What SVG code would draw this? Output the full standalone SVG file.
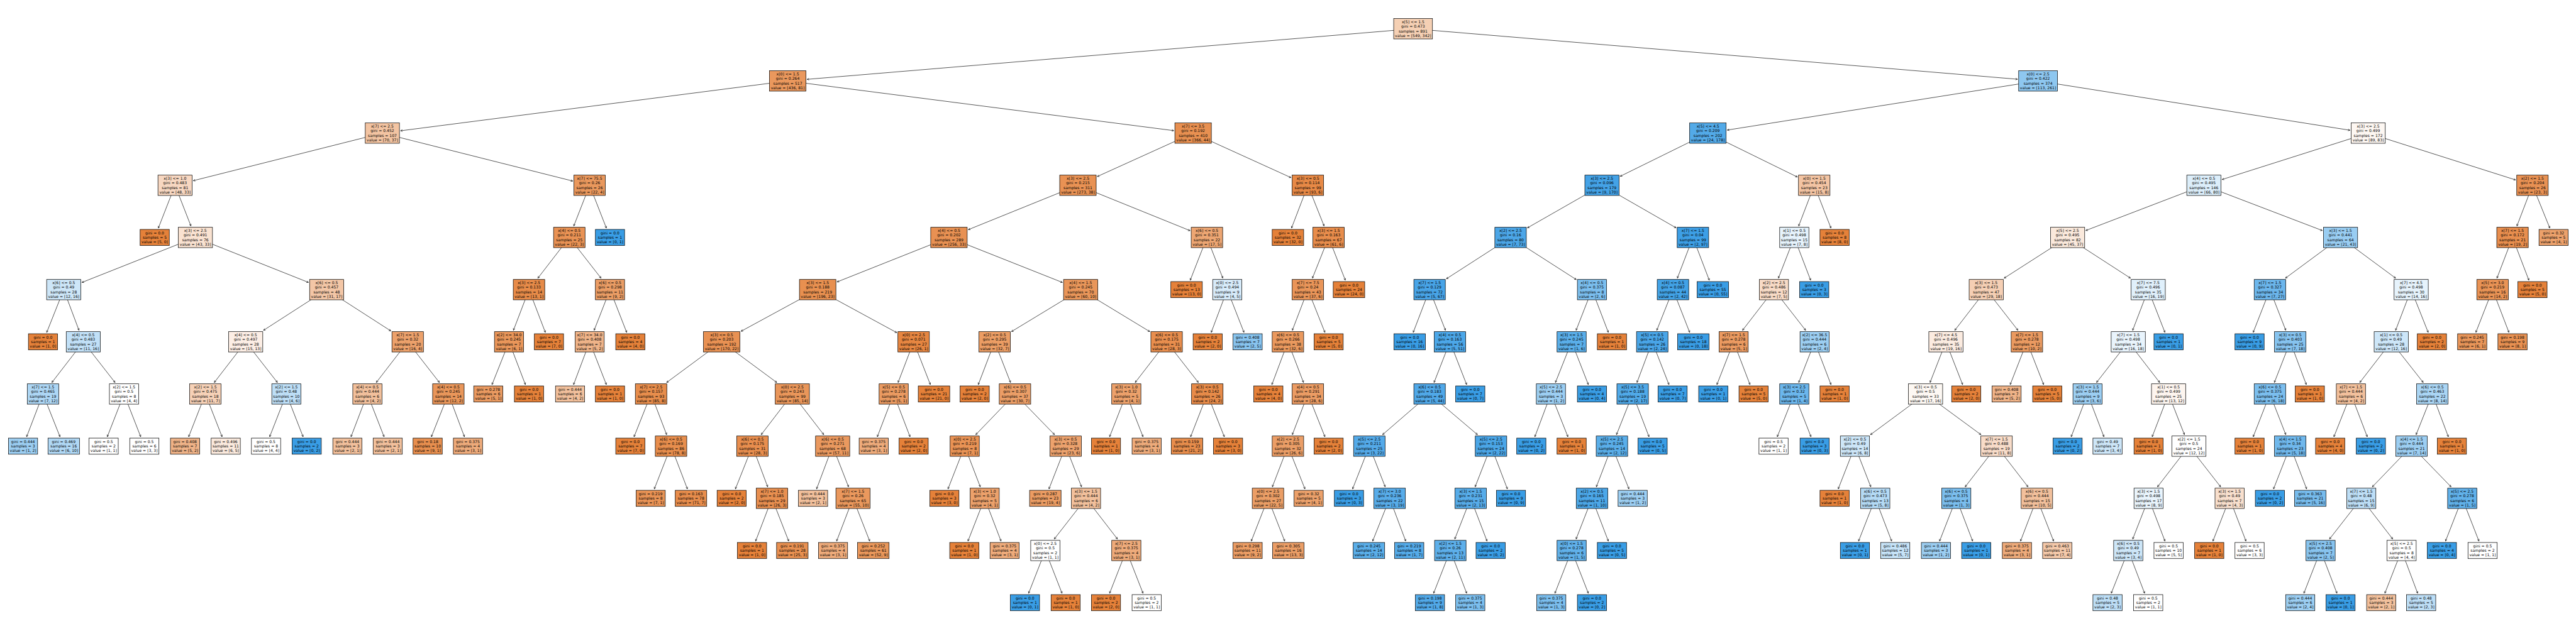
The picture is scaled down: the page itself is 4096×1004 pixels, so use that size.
<svg xmlns="http://www.w3.org/2000/svg" width="4096" height="1004" viewBox="0 0 4096 1004">
<style>
.u{fill:#fff}
.o,.b,.w{stroke:#000;stroke-width:1.2}
.o{fill:#e58139}
.b{fill:#399de5}
.w{fill:none}
text{font-family:"DejaVu Sans","Liberation Sans",sans-serif;font-size:10px;text-anchor:middle;fill:#000}
#edges path{fill:none;stroke:#000;stroke-width:1.1;marker-end:url(#ah)}
</style>
<defs>
<marker id="ah" viewBox="-6 -4 7 8" refX="0" refY="0" markerWidth="7" markerHeight="8" markerUnits="userSpaceOnUse" orient="auto"><path d="M-5,-2.4L0,0L-5,2.4" fill="none" stroke="#000" stroke-width="1"/></marker>
<rect id="I2" x="-38" y="-26.5" width="76" height="53"/>
<rect id="I3" x="-41" y="-26.5" width="82" height="53"/>
<rect id="I4" x="-44.5" y="-26.5" width="89" height="53"/>
<rect id="I5" x="-47.5" y="-26.5" width="95" height="53"/>
<rect id="I6" x="-50.5" y="-26.5" width="101" height="53"/>
<rect id="L2" x="-38" y="-21" width="76" height="42"/>
<rect id="L3" x="-41" y="-21" width="82" height="42"/>
</defs>
<rect width="4096" height="1004" fill="#fff"/>
<g transform="scale(0.6104)">
<g id="edges">
<path d="M3681 75L2102.5 206.8"/><path d="M3681 75L5255.5 206.5"/>
<path d="M2052 211L1043.5 340.9"/><path d="M2052 211L3057.5 340.5"/><path d="M5309 211L4499.5 339"/><path d="M5309 211L6121.5 339.5"/>
<path d="M996 347L503.5 471"/><path d="M996 347L1492 471.9"/><path d="M3108 347L2858.5 460.1"/><path d="M3108 347L3363 463"/><path d="M4449 347L4220.5 459.6"/><path d="M4449 347L4682 461.4"/><path d="M6169 347L5788.5 467.9"/><path d="M6169 347L6553 469"/>
<path d="M456 483L412.5 594.5"/><path d="M456 483L497.3 589"/><path d="M1536 483L1494.7 589"/><path d="M1536 483L1579.5 594.5"/><path d="M2808 483L2522.5 598.6"/><path d="M2808 483L3100 601.2"/><path d="M3407 483L3364.4 594.5"/><path d="M3407 483L3449.1 589"/><path d="M4173 483L3979 593.9"/><path d="M4173 483L4366 593.8"/><path d="M4726 483L4685.5 589"/><path d="M4726 483L4769.5 594.5"/><path d="M5741 483L5433.5 600.8"/><path d="M5741 483L6049.5 600.9"/><path d="M6597 483L6556.5 589"/><path d="M6597 483L6642.1 594.5"/>
<path d="M509 619L213.5 736.2"/><path d="M509 619L803.5 736.1"/><path d="M1483 619L1401.2 725"/><path d="M1483 619L1565.6 725"/><path d="M2472 619L2180.5 734.9"/><path d="M2472 619L2767.5 736.2"/><path d="M3144 619L3100.5 730.5"/><path d="M3144 619L3185.3 725"/><path d="M3461 619L3418.9 725"/><path d="M3461 619L3504.5 730.5"/><path d="M3935 619L3768 726.6"/><path d="M3935 619L4106 728.7"/><path d="M4410 619L4369.5 725"/><path d="M4410 619L4452.6 730.5"/><path d="M4674 619L4632.7 725"/><path d="M4674 619L4716.6 730.5"/><path d="M5386 619L5220.8 725"/><path d="M5386 619L5549.7 725"/><path d="M6097 619L5953.6 725"/><path d="M6097 619L6240.4 725"/><path d="M6545 619L6504.5 725"/><path d="M6545 619L6587.6 730.5"/>
<path d="M166 755L121.7 866.5"/><path d="M166 755L205.7 861"/><path d="M851 755L686.5 861"/><path d="M851 755L1018 862.6"/><path d="M1378 755L1337.5 861"/><path d="M1378 755L1420.6 866.5"/><path d="M1589 755L1547.7 861"/><path d="M1589 755L1632.5 866.5"/><path d="M2130 755L1930.5 863.5"/><path d="M2130 755L2336 867.1"/><path d="M2815 755L2635 864.3"/><path d="M2815 755L2995 864.3"/><path d="M3197 755L3155.2 866.5"/><path d="M3197 755L3240.5 866.5"/><path d="M3407 755L3366.5 861"/><path d="M3407 755L3451.3 866.5"/><path d="M3724 755L3681.4 866.5"/><path d="M3724 755L3765.3 861"/><path d="M4147 755L4105.7 861"/><path d="M4147 755L4189.6 866.5"/><path d="M4358 755L4315.9 861"/><path d="M4358 755L4401.5 866.5"/><path d="M4621 755L4539.2 861"/><path d="M4621 755L4703.6 861"/><path d="M5174 755L5092.2 861"/><path d="M5174 755L5256.6 861"/><path d="M5596 755L5555.5 861"/><path d="M5596 755L5639.5 866.5"/><path d="M5913 755L5869.5 866.5"/><path d="M5913 755L5954.3 861"/><path d="M6281 755L6240.5 861"/><path d="M6281 755L6325.3 866.5"/><path d="M6493 755L6449.5 866.5"/><path d="M6493 755L6535.6 866.5"/>
<path d="M217 891L135.2 997"/><path d="M217 891L299.6 997"/><path d="M640 891L558.2 997"/><path d="M640 891L722.6 997"/><path d="M1062 891L980.2 997"/><path d="M1062 891L1144.6 997"/><path d="M1326 891L1281.7 1002.5"/><path d="M1326 891L1368.6 1002.5"/><path d="M1536 891L1494.2 1002.5"/><path d="M1536 891L1579.5 1002.5"/><path d="M1880 891L1736.6 997"/><path d="M1880 891L2023.4 997"/><path d="M2380 891L2339.5 997"/><path d="M2380 891L2423.5 1002.5"/><path d="M2591 891L2548.4 1002.5"/><path d="M2591 891L2632.3 997"/><path d="M3039 891L2957.2 997"/><path d="M3039 891L3121.6 997"/><path d="M3355 891L3313.2 1002.5"/><path d="M3355 891L3395.5 997"/><path d="M3777 891L3735.7 997"/><path d="M3777 891L3820.5 1002.5"/><path d="M4094 891L4051.9 997"/><path d="M4094 891L4137.5 1002.5"/><path d="M4304 891L4264.3 997"/><path d="M4304 891L4347.5 1002.5"/><path d="M4516 891L4472.5 1002.5"/><path d="M4516 891L4558.6 1002.5"/><path d="M4727 891L4685.7 997"/><path d="M4727 891L4769.6 1002.5"/><path d="M5069 891L5027.7 997"/><path d="M5069 891L5112.5 1002.5"/><path d="M5280 891L5236.5 1002.5"/><path d="M5280 891L5323.5 1002.5"/><path d="M5544 891L5461.4 997"/><path d="M5544 891L5625.8 997"/><path d="M5966 891L5924.7 997"/><path d="M5966 891L6007.8 1002.5"/><path d="M6229 891L6147.2 997"/><path d="M6229 891L6312.4 997"/>
<path d="M112 1027L69.4 1138.5"/><path d="M112 1027L156.3 1138.5"/><path d="M323 1027L279.5 1138.5"/><path d="M323 1027L366.5 1138.5"/><path d="M535 1027L491.5 1138.5"/><path d="M535 1027L578.5 1138.5"/><path d="M746 1027L702.5 1138.5"/><path d="M746 1027L789.5 1138.5"/><path d="M957 1027L914.4 1138.5"/><path d="M957 1027L1000.5 1138.5"/><path d="M1168 1027L1123.7 1138.5"/><path d="M1168 1027L1209.8 1138.5"/><path d="M1696 1027L1651.7 1138.5"/><path d="M1696 1027L1736.5 1133"/><path d="M2064 1027L1982.9 1133"/><path d="M2064 1027L2145.8 1133"/><path d="M2328 1027L2285.4 1138.5"/><path d="M2328 1027L2370.6 1138.5"/><path d="M2644 1027L2541.9 1133"/><path d="M2644 1027L2746.9 1133"/><path d="M2934 1027L2890.5 1138.5"/><path d="M2934 1027L2977.5 1138.5"/><path d="M3145 1027L3101.5 1138.5"/><path d="M3145 1027L3189.3 1138.5"/><path d="M3407 1027L3366.5 1133"/><path d="M3407 1027L3451.3 1138.5"/><path d="M3724 1027L3601.6 1133"/><path d="M3724 1027L3848.7 1133"/><path d="M4040 1027L3998.2 1138.5"/><path d="M4040 1027L4084.3 1138.5"/><path d="M4253 1027L4210.9 1133"/><path d="M4253 1027L4295.6 1138.5"/><path d="M4674 1027L4629.7 1138.5"/><path d="M4674 1027L4717.5 1138.5"/><path d="M5016 1027L4872.6 1133"/><path d="M5016 1027L5160.2 1133"/><path d="M5438 1027L5395.4 1138.5"/><path d="M5438 1027L5480.6 1138.5"/><path d="M5649 1027L5606.4 1138.5"/><path d="M5649 1027L5690.3 1133"/><path d="M5913 1027L5869.5 1138.5"/><path d="M5913 1027L5954.3 1133"/><path d="M6124 1027L6079.7 1138.5"/><path d="M6124 1027L6166.6 1138.5"/><path d="M6336 1027L6293.9 1133"/><path d="M6336 1027L6377.8 1138.5"/>
<path d="M1748 1163L1704.5 1274.5"/><path d="M1748 1163L1790.6 1274.5"/><path d="M1960 1163L1915.7 1274.5"/><path d="M1960 1163L1999.7 1269"/><path d="M2169 1163L2127.2 1274.5"/><path d="M2169 1163L2210.3 1269"/><path d="M2513 1163L2469.5 1274.5"/><path d="M2513 1163L2553.5 1269"/><path d="M2776 1163L2732.5 1274.5"/><path d="M2776 1163L2817.3 1269"/><path d="M3355 1163L3314.5 1269"/><path d="M3355 1163L3399.3 1274.5"/><path d="M3567 1163L3523.5 1274.5"/><path d="M3567 1163L3608.3 1269"/><path d="M3884 1163L3842.7 1269"/><path d="M3884 1163L3926.6 1274.5"/><path d="M4199 1163L4158.5 1269"/><path d="M4199 1163L4243.3 1274.5"/><path d="M4832 1163L4788.5 1274.5"/><path d="M4832 1163L4873.3 1269"/><path d="M5201 1163L5119.2 1269"/><path d="M5201 1163L5282.8 1269"/><path d="M5702 1163L5620.2 1269"/><path d="M5702 1163L5784.6 1269"/><path d="M5966 1163L5922.5 1274.5"/><path d="M5966 1163L6008.6 1274.5"/><path d="M6282 1163L6179.9 1269"/><path d="M6282 1163L6384.9 1269"/>
<path d="M2011 1299L1968.4 1410.5"/><path d="M2011 1299L2054.5 1410.5"/><path d="M2222 1299L2179.4 1410.5"/><path d="M2222 1299L2265.5 1410.5"/><path d="M2565 1299L2521.5 1410.5"/><path d="M2565 1299L2607.6 1410.5"/><path d="M2829 1299L2746.4 1405"/><path d="M2829 1299L2910.8 1405"/><path d="M3303 1299L3259.5 1410.5"/><path d="M3303 1299L3346.5 1410.5"/><path d="M3620 1299L3575.7 1410.5"/><path d="M3620 1299L3661.8 1410.5"/><path d="M3831 1299L3789.7 1405"/><path d="M3831 1299L3873.6 1410.5"/><path d="M4147 1299L4105.7 1405"/><path d="M4147 1299L4189.6 1410.5"/><path d="M4885 1299L4841.5 1410.5"/><path d="M4885 1299L4927.6 1410.5"/><path d="M5096 1299L5052.5 1410.5"/><path d="M5096 1299L5138.6 1410.5"/><path d="M5306 1299L5263.4 1410.5"/><path d="M5306 1299L5349.5 1410.5"/><path d="M5597 1299L5555.7 1405"/><path d="M5597 1299L5639.6 1410.5"/><path d="M5808 1299L5764.5 1410.5"/><path d="M5808 1299L5850.6 1410.5"/><path d="M6151 1299L6068.4 1405"/><path d="M6151 1299L6232.8 1405"/><path d="M6414 1299L6370.5 1410.5"/><path d="M6414 1299L6457.5 1410.5"/>
<path d="M2723 1435L2679.5 1546.5"/><path d="M2723 1435L2766.5 1546.5"/><path d="M2934 1435L2890.5 1546.5"/><path d="M2934 1435L2977.5 1546.5"/><path d="M3778 1435L3734.5 1546.5"/><path d="M3778 1435L3820.6 1546.5"/><path d="M4094 1435L4050.5 1546.5"/><path d="M4094 1435L4137.5 1546.5"/><path d="M5544 1435L5499.7 1546.5"/><path d="M5544 1435L5586.6 1546.5"/><path d="M6045 1435L6001.5 1546.5"/><path d="M6045 1435L6087.6 1546.5"/><path d="M6256 1435L6212.5 1546.5"/><path d="M6256 1435L6297.8 1546.5"/>
</g>
<g id="nodes">
<g id="n0" transform="translate(3681 75)"><use href="#I6" class="u"/><use href="#I6" class="o" fill-opacity=".377"/><text y="-14.5">x[5] &lt;= 1.5</text><text y="-2.5">gini = 0.473</text><text y="9.5">samples = 891</text><text y="21.5">value = [549, 342]</text></g>
<g id="n1" transform="translate(2052 211)"><use href="#I5" class="u"/><use href="#I5" class="o" fill-opacity=".814"/><text y="-14.5">x[0] &lt;= 1.5</text><text y="-2.5">gini = 0.264</text><text y="9.5">samples = 517</text><text y="21.5">value = [436, 81]</text></g>
<g id="n2" transform="translate(5309 211)"><use href="#I6" class="u"/><use href="#I6" class="b" fill-opacity=".567"/><text y="-14.5">x[0] &lt;= 2.5</text><text y="-2.5">gini = 0.422</text><text y="9.5">samples = 374</text><text y="21.5">value = [113, 261]</text></g>
<g id="n3" transform="translate(996 347)"><use href="#I4" class="u"/><use href="#I4" class="o" fill-opacity=".471"/><text y="-14.5">x[7] &lt;= 2.5</text><text y="-2.5">gini = 0.452</text><text y="9.5">samples = 107</text><text y="21.5">value = [70, 37]</text></g>
<g id="n4" transform="translate(3108 347)"><use href="#I5" class="u"/><use href="#I5" class="o" fill-opacity=".88"/><text y="-14.5">x[7] &lt;= 3.5</text><text y="-2.5">gini = 0.192</text><text y="9.5">samples = 410</text><text y="21.5">value = [366, 44]</text></g>
<g id="n5" transform="translate(4449 347)"><use href="#I5" class="u"/><use href="#I5" class="b" fill-opacity=".865"/><text y="-14.5">x[5] &lt;= 4.5</text><text y="-2.5">gini = 0.209</text><text y="9.5">samples = 202</text><text y="21.5">value = [24, 178]</text></g>
<g id="n6" transform="translate(6169 347)"><use href="#I4" class="u"/><use href="#I4" class="o" fill-opacity=".067"/><text y="-14.5">x[3] &lt;= 2.5</text><text y="-2.5">gini = 0.499</text><text y="9.5">samples = 172</text><text y="21.5">value = [89, 83]</text></g>
<g id="n7" transform="translate(456 483)"><use href="#I4" class="u"/><use href="#I4" class="o" fill-opacity=".313"/><text y="-14.5">x[3] &lt;= 1.0</text><text y="-2.5">gini = 0.483</text><text y="9.5">samples = 81</text><text y="21.5">value = [48, 33]</text></g>
<g id="n8" transform="translate(1536 483)"><use href="#I3" class="u"/><use href="#I3" class="o" fill-opacity=".818"/><text y="-14.5">x[7] &lt;= 75.5</text><text y="-2.5">gini = 0.26</text><text y="9.5">samples = 26</text><text y="21.5">value = [22, 4]</text></g>
<g id="n9" transform="translate(2808 483)"><use href="#I5" class="u"/><use href="#I5" class="o" fill-opacity=".861"/><text y="-14.5">x[3] &lt;= 2.5</text><text y="-2.5">gini = 0.215</text><text y="9.5">samples = 311</text><text y="21.5">value = [273, 38]</text></g>
<g id="n10" transform="translate(3407 483)"><use href="#I3" class="u"/><use href="#I3" class="o" fill-opacity=".935"/><text y="-14.5">x[3] &lt;= 0.5</text><text y="-2.5">gini = 0.114</text><text y="9.5">samples = 99</text><text y="21.5">value = [93, 6]</text></g>
<g id="n11" transform="translate(4173 483)"><use href="#I4" class="u"/><use href="#I4" class="b" fill-opacity=".947"/><text y="-14.5">x[3] &lt;= 2.5</text><text y="-2.5">gini = 0.096</text><text y="9.5">samples = 179</text><text y="21.5">value = [9, 170]</text></g>
<g id="n12" transform="translate(4726 483)"><use href="#I3" class="u"/><use href="#I3" class="o" fill-opacity=".467"/><text y="-14.5">x[0] &lt;= 1.5</text><text y="-2.5">gini = 0.454</text><text y="9.5">samples = 23</text><text y="21.5">value = [15, 8]</text></g>
<g id="n13" transform="translate(5741 483)"><use href="#I4" class="u"/><use href="#I4" class="b" fill-opacity=".175"/><text y="-14.5">x[4] &lt;= 0.5</text><text y="-2.5">gini = 0.495</text><text y="9.5">samples = 146</text><text y="21.5">value = [66, 80]</text></g>
<g id="n14" transform="translate(6597 483)"><use href="#I3" class="u"/><use href="#I3" class="o" fill-opacity=".87"/><text y="-14.5">x[2] &lt;= 1.5</text><text y="-2.5">gini = 0.204</text><text y="9.5">samples = 26</text><text y="21.5">value = [23, 3]</text></g>
<g id="n15" transform="translate(403 619)"><use href="#L2" class="u"/><use href="#L2" class="o"/><text y="-8.5">gini = 0.0</text><text y="3.5">samples = 5</text><text y="15.5">value = [5, 0]</text></g>
<g id="n16" transform="translate(509 619)"><use href="#I4" class="u"/><use href="#I4" class="o" fill-opacity=".233"/><text y="-14.5">x[3] &lt;= 2.5</text><text y="-2.5">gini = 0.491</text><text y="9.5">samples = 76</text><text y="21.5">value = [43, 33]</text></g>
<g id="n17" transform="translate(1483 619)"><use href="#I3" class="u"/><use href="#I3" class="o" fill-opacity=".864"/><text y="-14.5">x[4] &lt;= 0.5</text><text y="-2.5">gini = 0.211</text><text y="9.5">samples = 25</text><text y="21.5">value = [22, 3]</text></g>
<g id="n18" transform="translate(1589 619)"><use href="#L2" class="u"/><use href="#L2" class="b"/><text y="-8.5">gini = 0.0</text><text y="3.5">samples = 1</text><text y="15.5">value = [0, 1]</text></g>
<g id="n19" transform="translate(2472 619)"><use href="#I5" class="u"/><use href="#I5" class="o" fill-opacity=".871"/><text y="-14.5">x[4] &lt;= 0.5</text><text y="-2.5">gini = 0.202</text><text y="9.5">samples = 289</text><text y="21.5">value = [256, 33]</text></g>
<g id="n20" transform="translate(3144 619)"><use href="#I3" class="u"/><use href="#I3" class="o" fill-opacity=".706"/><text y="-14.5">x[6] &lt;= 0.5</text><text y="-2.5">gini = 0.351</text><text y="9.5">samples = 22</text><text y="21.5">value = [17, 5]</text></g>
<g id="n21" transform="translate(3355 619)"><use href="#L3" class="u"/><use href="#L3" class="o"/><text y="-8.5">gini = 0.0</text><text y="3.5">samples = 32</text><text y="15.5">value = [32, 0]</text></g>
<g id="n22" transform="translate(3461 619)"><use href="#I3" class="u"/><use href="#I3" class="o" fill-opacity=".902"/><text y="-14.5">x[3] &lt;= 1.5</text><text y="-2.5">gini = 0.163</text><text y="9.5">samples = 67</text><text y="21.5">value = [61, 6]</text></g>
<g id="n23" transform="translate(3935 619)"><use href="#I3" class="u"/><use href="#I3" class="b" fill-opacity=".904"/><text y="-14.5">x[2] &lt;= 2.5</text><text y="-2.5">gini = 0.16</text><text y="9.5">samples = 80</text><text y="21.5">value = [7, 73]</text></g>
<g id="n24" transform="translate(4410 619)"><use href="#I3" class="u"/><use href="#I3" class="b" fill-opacity=".979"/><text y="-14.5">x[7] &lt;= 1.5</text><text y="-2.5">gini = 0.04</text><text y="9.5">samples = 99</text><text y="21.5">value = [2, 97]</text></g>
<g id="n25" transform="translate(4674 619)"><use href="#I2" class="u"/><use href="#I2" class="b" fill-opacity=".125"/><text y="-14.5">x[1] &lt;= 0.5</text><text y="-2.5">gini = 0.498</text><text y="9.5">samples = 15</text><text y="21.5">value = [7, 8]</text></g>
<g id="n26" transform="translate(4779 619)"><use href="#L2" class="u"/><use href="#L2" class="o"/><text y="-8.5">gini = 0.0</text><text y="3.5">samples = 8</text><text y="15.5">value = [8, 0]</text></g>
<g id="n27" transform="translate(5386 619)"><use href="#I4" class="u"/><use href="#I4" class="o" fill-opacity=".178"/><text y="-14.5">x[5] &lt;= 2.5</text><text y="-2.5">gini = 0.495</text><text y="9.5">samples = 82</text><text y="21.5">value = [45, 37]</text></g>
<g id="n28" transform="translate(6097 619)"><use href="#I4" class="u"/><use href="#I4" class="b" fill-opacity=".512"/><text y="-14.5">x[3] &lt;= 1.5</text><text y="-2.5">gini = 0.441</text><text y="9.5">samples = 64</text><text y="21.5">value = [21, 43]</text></g>
<g id="n29" transform="translate(6545 619)"><use href="#I3" class="u"/><use href="#I3" class="o" fill-opacity=".895"/><text y="-14.5">x[7] &lt;= 1.5</text><text y="-2.5">gini = 0.172</text><text y="9.5">samples = 21</text><text y="21.5">value = [19, 2]</text></g>
<g id="n30" transform="translate(6652 619)"><use href="#L2" class="u"/><use href="#L2" class="o" fill-opacity=".75"/><text y="-8.5">gini = 0.32</text><text y="3.5">samples = 5</text><text y="15.5">value = [4, 1]</text></g>
<g id="n31" transform="translate(166 755)"><use href="#I4" class="u"/><use href="#I4" class="b" fill-opacity=".25"/><text y="-14.5">x[6] &lt;= 0.5</text><text y="-2.5">gini = 0.49</text><text y="9.5">samples = 28</text><text y="21.5">value = [12, 16]</text></g>
<g id="n32" transform="translate(851 755)"><use href="#I4" class="u"/><use href="#I4" class="o" fill-opacity=".452"/><text y="-14.5">x[6] &lt;= 0.5</text><text y="-2.5">gini = 0.457</text><text y="9.5">samples = 48</text><text y="21.5">value = [31, 17]</text></g>
<g id="n33" transform="translate(1378 755)"><use href="#I3" class="u"/><use href="#I3" class="o" fill-opacity=".923"/><text y="-14.5">x[3] &lt;= 2.5</text><text y="-2.5">gini = 0.133</text><text y="9.5">samples = 14</text><text y="21.5">value = [13, 1]</text></g>
<g id="n34" transform="translate(1589 755)"><use href="#I2" class="u"/><use href="#I2" class="o" fill-opacity=".778"/><text y="-14.5">x[6] &lt;= 0.5</text><text y="-2.5">gini = 0.298</text><text y="9.5">samples = 11</text><text y="21.5">value = [9, 2]</text></g>
<g id="n35" transform="translate(2130 755)"><use href="#I5" class="u"/><use href="#I5" class="o" fill-opacity=".883"/><text y="-14.5">x[3] &lt;= 1.5</text><text y="-2.5">gini = 0.188</text><text y="9.5">samples = 219</text><text y="21.5">value = [196, 23]</text></g>
<g id="n36" transform="translate(2815 755)"><use href="#I4" class="u"/><use href="#I4" class="o" fill-opacity=".833"/><text y="-14.5">x[4] &lt;= 1.5</text><text y="-2.5">gini = 0.245</text><text y="9.5">samples = 70</text><text y="21.5">value = [60, 10]</text></g>
<g id="n37" transform="translate(3091 755)"><use href="#L3" class="u"/><use href="#L3" class="o"/><text y="-8.5">gini = 0.0</text><text y="3.5">samples = 13</text><text y="15.5">value = [13, 0]</text></g>
<g id="n38" transform="translate(3197 755)"><use href="#I2" class="u"/><use href="#I2" class="b" fill-opacity=".2"/><text y="-14.5">x[0] &lt;= 2.5</text><text y="-2.5">gini = 0.494</text><text y="9.5">samples = 9</text><text y="21.5">value = [4, 5]</text></g>
<g id="n39" transform="translate(3407 755)"><use href="#I3" class="u"/><use href="#I3" class="o" fill-opacity=".838"/><text y="-14.5">x[7] &lt;= 7.5</text><text y="-2.5">gini = 0.24</text><text y="9.5">samples = 43</text><text y="21.5">value = [37, 6]</text></g>
<g id="n40" transform="translate(3514 755)"><use href="#L3" class="u"/><use href="#L3" class="o"/><text y="-8.5">gini = 0.0</text><text y="3.5">samples = 24</text><text y="15.5">value = [24, 0]</text></g>
<g id="n41" transform="translate(3724 755)"><use href="#I3" class="u"/><use href="#I3" class="b" fill-opacity=".925"/><text y="-14.5">x[7] &lt;= 1.5</text><text y="-2.5">gini = 0.129</text><text y="9.5">samples = 72</text><text y="21.5">value = [5, 67]</text></g>
<g id="n42" transform="translate(4147 755)"><use href="#I2" class="u"/><use href="#I2" class="b" fill-opacity=".667"/><text y="-14.5">x[4] &lt;= 0.5</text><text y="-2.5">gini = 0.375</text><text y="9.5">samples = 8</text><text y="21.5">value = [2, 6]</text></g>
<g id="n43" transform="translate(4358 755)"><use href="#I3" class="u"/><use href="#I3" class="b" fill-opacity=".952"/><text y="-14.5">x[4] &lt;= 0.5</text><text y="-2.5">gini = 0.087</text><text y="9.5">samples = 44</text><text y="21.5">value = [2, 42]</text></g>
<g id="n44" transform="translate(4462 755)"><use href="#L3" class="u"/><use href="#L3" class="b"/><text y="-8.5">gini = 0.0</text><text y="3.5">samples = 55</text><text y="15.5">value = [0, 55]</text></g>
<g id="n45" transform="translate(4621 755)"><use href="#I2" class="u"/><use href="#I2" class="o" fill-opacity=".286"/><text y="-14.5">x[2] &lt;= 2.5</text><text y="-2.5">gini = 0.486</text><text y="9.5">samples = 12</text><text y="21.5">value = [7, 5]</text></g>
<g id="n46" transform="translate(4726 755)"><use href="#L2" class="u"/><use href="#L2" class="b"/><text y="-8.5">gini = 0.0</text><text y="3.5">samples = 3</text><text y="15.5">value = [0, 3]</text></g>
<g id="n47" transform="translate(5174 755)"><use href="#I4" class="u"/><use href="#I4" class="o" fill-opacity=".379"/><text y="-14.5">x[3] &lt;= 1.5</text><text y="-2.5">gini = 0.473</text><text y="9.5">samples = 47</text><text y="21.5">value = [29, 18]</text></g>
<g id="n48" transform="translate(5596 755)"><use href="#I4" class="u"/><use href="#I4" class="b" fill-opacity=".158"/><text y="-14.5">x[7] &lt;= 7.5</text><text y="-2.5">gini = 0.496</text><text y="9.5">samples = 35</text><text y="21.5">value = [16, 19]</text></g>
<g id="n49" transform="translate(5913 755)"><use href="#I3" class="u"/><use href="#I3" class="b" fill-opacity=".741"/><text y="-14.5">x[7] &lt;= 1.5</text><text y="-2.5">gini = 0.327</text><text y="9.5">samples = 34</text><text y="21.5">value = [7, 27]</text></g>
<g id="n50" transform="translate(6281 755)"><use href="#I4" class="u"/><use href="#I4" class="b" fill-opacity=".125"/><text y="-14.5">x[7] &lt;= 4.5</text><text y="-2.5">gini = 0.498</text><text y="9.5">samples = 30</text><text y="21.5">value = [14, 16]</text></g>
<g id="n51" transform="translate(6493 755)"><use href="#I3" class="u"/><use href="#I3" class="o" fill-opacity=".857"/><text y="-14.5">x[5] &lt;= 3.0</text><text y="-2.5">gini = 0.219</text><text y="9.5">samples = 16</text><text y="21.5">value = [14, 2]</text></g>
<g id="n52" transform="translate(6597 755)"><use href="#L2" class="u"/><use href="#L2" class="o"/><text y="-8.5">gini = 0.0</text><text y="3.5">samples = 5</text><text y="15.5">value = [5, 0]</text></g>
<g id="n53" transform="translate(112 891)"><use href="#L2" class="u"/><use href="#L2" class="o"/><text y="-8.5">gini = 0.0</text><text y="3.5">samples = 1</text><text y="15.5">value = [1, 0]</text></g>
<g id="n54" transform="translate(217 891)"><use href="#I4" class="u"/><use href="#I4" class="b" fill-opacity=".313"/><text y="-14.5">x[4] &lt;= 0.5</text><text y="-2.5">gini = 0.483</text><text y="9.5">samples = 27</text><text y="21.5">value = [11, 16]</text></g>
<g id="n55" transform="translate(640 891)"><use href="#I4" class="u"/><use href="#I4" class="o" fill-opacity=".133"/><text y="-14.5">x[4] &lt;= 0.5</text><text y="-2.5">gini = 0.497</text><text y="9.5">samples = 28</text><text y="21.5">value = [15, 13]</text></g>
<g id="n56" transform="translate(1062 891)"><use href="#I3" class="u"/><use href="#I3" class="o" fill-opacity=".75"/><text y="-14.5">x[7] &lt;= 1.5</text><text y="-2.5">gini = 0.32</text><text y="9.5">samples = 20</text><text y="21.5">value = [16, 4]</text></g>
<g id="n57" transform="translate(1326 891)"><use href="#I2" class="u"/><use href="#I2" class="o" fill-opacity=".833"/><text y="-14.5">x[2] &lt;= 34.0</text><text y="-2.5">gini = 0.245</text><text y="9.5">samples = 7</text><text y="21.5">value = [6, 1]</text></g>
<g id="n58" transform="translate(1430 891)"><use href="#L2" class="u"/><use href="#L2" class="o"/><text y="-8.5">gini = 0.0</text><text y="3.5">samples = 7</text><text y="15.5">value = [7, 0]</text></g>
<g id="n59" transform="translate(1536 891)"><use href="#I2" class="u"/><use href="#I2" class="o" fill-opacity=".6"/><text y="-14.5">x[7] &lt;= 34.0</text><text y="-2.5">gini = 0.408</text><text y="9.5">samples = 7</text><text y="21.5">value = [5, 2]</text></g>
<g id="n60" transform="translate(1642 891)"><use href="#L2" class="u"/><use href="#L2" class="o"/><text y="-8.5">gini = 0.0</text><text y="3.5">samples = 4</text><text y="15.5">value = [4, 0]</text></g>
<g id="n61" transform="translate(1880 891)"><use href="#I5" class="u"/><use href="#I5" class="o" fill-opacity=".871"/><text y="-14.5">x[3] &lt;= 0.5</text><text y="-2.5">gini = 0.203</text><text y="9.5">samples = 192</text><text y="21.5">value = [170, 22]</text></g>
<g id="n62" transform="translate(2380 891)"><use href="#I3" class="u"/><use href="#I3" class="o" fill-opacity=".962"/><text y="-14.5">x[0] &lt;= 2.5</text><text y="-2.5">gini = 0.071</text><text y="9.5">samples = 27</text><text y="21.5">value = [26, 1]</text></g>
<g id="n63" transform="translate(2591 891)"><use href="#I3" class="u"/><use href="#I3" class="o" fill-opacity=".781"/><text y="-14.5">x[2] &lt;= 0.5</text><text y="-2.5">gini = 0.295</text><text y="9.5">samples = 39</text><text y="21.5">value = [32, 7]</text></g>
<g id="n64" transform="translate(3039 891)"><use href="#I3" class="u"/><use href="#I3" class="o" fill-opacity=".893"/><text y="-14.5">x[6] &lt;= 0.5</text><text y="-2.5">gini = 0.175</text><text y="9.5">samples = 31</text><text y="21.5">value = [28, 3]</text></g>
<g id="n65" transform="translate(3146 891)"><use href="#L2" class="u"/><use href="#L2" class="o"/><text y="-8.5">gini = 0.0</text><text y="3.5">samples = 2</text><text y="15.5">value = [2, 0]</text></g>
<g id="n66" transform="translate(3250 891)"><use href="#L2" class="u"/><use href="#L2" class="b" fill-opacity=".6"/><text y="-8.5">gini = 0.408</text><text y="3.5">samples = 7</text><text y="15.5">value = [2, 5]</text></g>
<g id="n67" transform="translate(3355 891)"><use href="#I3" class="u"/><use href="#I3" class="o" fill-opacity=".813"/><text y="-14.5">x[6] &lt;= 0.5</text><text y="-2.5">gini = 0.266</text><text y="9.5">samples = 38</text><text y="21.5">value = [32, 6]</text></g>
<g id="n68" transform="translate(3461 891)"><use href="#L2" class="u"/><use href="#L2" class="o"/><text y="-8.5">gini = 0.0</text><text y="3.5">samples = 5</text><text y="15.5">value = [5, 0]</text></g>
<g id="n69" transform="translate(3672 891)"><use href="#L3" class="u"/><use href="#L3" class="b"/><text y="-8.5">gini = 0.0</text><text y="3.5">samples = 16</text><text y="15.5">value = [0, 16]</text></g>
<g id="n70" transform="translate(3777 891)"><use href="#I3" class="u"/><use href="#I3" class="b" fill-opacity=".902"/><text y="-14.5">x[4] &lt;= 0.5</text><text y="-2.5">gini = 0.163</text><text y="9.5">samples = 56</text><text y="21.5">value = [5, 51]</text></g>
<g id="n71" transform="translate(4094 891)"><use href="#I2" class="u"/><use href="#I2" class="b" fill-opacity=".833"/><text y="-14.5">x[3] &lt;= 1.5</text><text y="-2.5">gini = 0.245</text><text y="9.5">samples = 7</text><text y="21.5">value = [1, 6]</text></g>
<g id="n72" transform="translate(4199 891)"><use href="#L2" class="u"/><use href="#L2" class="o"/><text y="-8.5">gini = 0.0</text><text y="3.5">samples = 1</text><text y="15.5">value = [1, 0]</text></g>
<g id="n73" transform="translate(4304 891)"><use href="#I3" class="u"/><use href="#I3" class="b" fill-opacity=".917"/><text y="-14.5">x[5] &lt;= 0.5</text><text y="-2.5">gini = 0.142</text><text y="9.5">samples = 26</text><text y="21.5">value = [2, 24]</text></g>
<g id="n74" transform="translate(4411 891)"><use href="#L3" class="u"/><use href="#L3" class="b"/><text y="-8.5">gini = 0.0</text><text y="3.5">samples = 18</text><text y="15.5">value = [0, 18]</text></g>
<g id="n75" transform="translate(4516 891)"><use href="#I2" class="u"/><use href="#I2" class="o" fill-opacity=".8"/><text y="-14.5">x[7] &lt;= 1.5</text><text y="-2.5">gini = 0.278</text><text y="9.5">samples = 6</text><text y="21.5">value = [5, 1]</text></g>
<g id="n76" transform="translate(4727 891)"><use href="#I2" class="u"/><use href="#I2" class="b" fill-opacity=".5"/><text y="-14.5">x[2] &lt;= 36.5</text><text y="-2.5">gini = 0.444</text><text y="9.5">samples = 6</text><text y="21.5">value = [2, 4]</text></g>
<g id="n77" transform="translate(5069 891)"><use href="#I4" class="u"/><use href="#I4" class="o" fill-opacity=".158"/><text y="-14.5">x[7] &lt;= 4.5</text><text y="-2.5">gini = 0.496</text><text y="9.5">samples = 35</text><text y="21.5">value = [19, 16]</text></g>
<g id="n78" transform="translate(5280 891)"><use href="#I3" class="u"/><use href="#I3" class="o" fill-opacity=".8"/><text y="-14.5">x[7] &lt;= 1.5</text><text y="-2.5">gini = 0.278</text><text y="9.5">samples = 12</text><text y="21.5">value = [10, 2]</text></g>
<g id="n79" transform="translate(5544 891)"><use href="#I4" class="u"/><use href="#I4" class="b" fill-opacity=".111"/><text y="-14.5">x[7] &lt;= 1.5</text><text y="-2.5">gini = 0.498</text><text y="9.5">samples = 34</text><text y="21.5">value = [16, 18]</text></g>
<g id="n80" transform="translate(5649 891)"><use href="#L2" class="u"/><use href="#L2" class="b"/><text y="-8.5">gini = 0.0</text><text y="3.5">samples = 1</text><text y="15.5">value = [0, 1]</text></g>
<g id="n81" transform="translate(5860 891)"><use href="#L2" class="u"/><use href="#L2" class="b"/><text y="-8.5">gini = 0.0</text><text y="3.5">samples = 9</text><text y="15.5">value = [0, 9]</text></g>
<g id="n82" transform="translate(5966 891)"><use href="#I3" class="u"/><use href="#I3" class="b" fill-opacity=".611"/><text y="-14.5">x[3] &lt;= 0.5</text><text y="-2.5">gini = 0.403</text><text y="9.5">samples = 25</text><text y="21.5">value = [7, 18]</text></g>
<g id="n83" transform="translate(6229 891)"><use href="#I4" class="u"/><use href="#I4" class="b" fill-opacity=".25"/><text y="-14.5">x[1] &lt;= 0.5</text><text y="-2.5">gini = 0.49</text><text y="9.5">samples = 28</text><text y="21.5">value = [12, 16]</text></g>
<g id="n84" transform="translate(6335 891)"><use href="#L2" class="u"/><use href="#L2" class="o"/><text y="-8.5">gini = 0.0</text><text y="3.5">samples = 2</text><text y="15.5">value = [2, 0]</text></g>
<g id="n85" transform="translate(6440 891)"><use href="#L2" class="u"/><use href="#L2" class="o" fill-opacity=".833"/><text y="-8.5">gini = 0.245</text><text y="3.5">samples = 7</text><text y="15.5">value = [6, 1]</text></g>
<g id="n86" transform="translate(6545 891)"><use href="#L2" class="u"/><use href="#L2" class="o" fill-opacity=".875"/><text y="-8.5">gini = 0.198</text><text y="3.5">samples = 9</text><text y="15.5">value = [8, 1]</text></g>
<g id="n87" transform="translate(112 1027)"><use href="#I3" class="u"/><use href="#I3" class="b" fill-opacity=".417"/><text y="-14.5">x[7] &lt;= 1.5</text><text y="-2.5">gini = 0.465</text><text y="9.5">samples = 19</text><text y="21.5">value = [7, 12]</text></g>
<g id="n88" transform="translate(323 1027)"><use href="#I2" class="u"/><use href="#I2" class="w"/><text y="-14.5">x[2] &lt;= 1.5</text><text y="-2.5">gini = 0.5</text><text y="9.5">samples = 8</text><text y="21.5">value = [4, 4]</text></g>
<g id="n89" transform="translate(535 1027)"><use href="#I3" class="u"/><use href="#I3" class="o" fill-opacity=".364"/><text y="-14.5">x[2] &lt;= 1.5</text><text y="-2.5">gini = 0.475</text><text y="9.5">samples = 18</text><text y="21.5">value = [11, 7]</text></g>
<g id="n90" transform="translate(746 1027)"><use href="#I2" class="u"/><use href="#I2" class="b" fill-opacity=".333"/><text y="-14.5">x[2] &lt;= 1.5</text><text y="-2.5">gini = 0.48</text><text y="9.5">samples = 10</text><text y="21.5">value = [4, 6]</text></g>
<g id="n91" transform="translate(957 1027)"><use href="#I2" class="u"/><use href="#I2" class="o" fill-opacity=".5"/><text y="-14.5">x[4] &lt;= 0.5</text><text y="-2.5">gini = 0.444</text><text y="9.5">samples = 6</text><text y="21.5">value = [4, 2]</text></g>
<g id="n92" transform="translate(1168 1027)"><use href="#I3" class="u"/><use href="#I3" class="o" fill-opacity=".833"/><text y="-14.5">x[4] &lt;= 0.5</text><text y="-2.5">gini = 0.245</text><text y="9.5">samples = 14</text><text y="21.5">value = [12, 2]</text></g>
<g id="n93" transform="translate(1272 1027)"><use href="#L2" class="u"/><use href="#L2" class="o" fill-opacity=".8"/><text y="-8.5">gini = 0.278</text><text y="3.5">samples = 6</text><text y="15.5">value = [5, 1]</text></g>
<g id="n94" transform="translate(1378 1027)"><use href="#L2" class="u"/><use href="#L2" class="o"/><text y="-8.5">gini = 0.0</text><text y="3.5">samples = 1</text><text y="15.5">value = [1, 0]</text></g>
<g id="n95" transform="translate(1485 1027)"><use href="#L2" class="u"/><use href="#L2" class="o" fill-opacity=".5"/><text y="-8.5">gini = 0.444</text><text y="3.5">samples = 6</text><text y="15.5">value = [4, 2]</text></g>
<g id="n96" transform="translate(1589 1027)"><use href="#L2" class="u"/><use href="#L2" class="o"/><text y="-8.5">gini = 0.0</text><text y="3.5">samples = 1</text><text y="15.5">value = [1, 0]</text></g>
<g id="n97" transform="translate(1696 1027)"><use href="#I3" class="u"/><use href="#I3" class="o" fill-opacity=".906"/><text y="-14.5">x[7] &lt;= 2.5</text><text y="-2.5">gini = 0.157</text><text y="9.5">samples = 93</text><text y="21.5">value = [85, 8]</text></g>
<g id="n98" transform="translate(2064 1027)"><use href="#I4" class="u"/><use href="#I4" class="o" fill-opacity=".835"/><text y="-14.5">x[0] &lt;= 2.5</text><text y="-2.5">gini = 0.243</text><text y="9.5">samples = 99</text><text y="21.5">value = [85, 14]</text></g>
<g id="n99" transform="translate(2328 1027)"><use href="#I2" class="u"/><use href="#I2" class="o" fill-opacity=".8"/><text y="-14.5">x[5] &lt;= 0.5</text><text y="-2.5">gini = 0.278</text><text y="9.5">samples = 6</text><text y="21.5">value = [5, 1]</text></g>
<g id="n100" transform="translate(2433 1027)"><use href="#L3" class="u"/><use href="#L3" class="o"/><text y="-8.5">gini = 0.0</text><text y="3.5">samples = 21</text><text y="15.5">value = [21, 0]</text></g>
<g id="n101" transform="translate(2539 1027)"><use href="#L2" class="u"/><use href="#L2" class="o"/><text y="-8.5">gini = 0.0</text><text y="3.5">samples = 2</text><text y="15.5">value = [2, 0]</text></g>
<g id="n102" transform="translate(2644 1027)"><use href="#I3" class="u"/><use href="#I3" class="o" fill-opacity=".767"/><text y="-14.5">x[6] &lt;= 0.5</text><text y="-2.5">gini = 0.307</text><text y="9.5">samples = 37</text><text y="21.5">value = [30, 7]</text></g>
<g id="n103" transform="translate(2934 1027)"><use href="#I2" class="u"/><use href="#I2" class="o" fill-opacity=".75"/><text y="-14.5">x[3] &lt;= 1.0</text><text y="-2.5">gini = 0.32</text><text y="9.5">samples = 5</text><text y="21.5">value = [4, 1]</text></g>
<g id="n104" transform="translate(3145 1027)"><use href="#I3" class="u"/><use href="#I3" class="o" fill-opacity=".917"/><text y="-14.5">x[3] &lt;= 0.5</text><text y="-2.5">gini = 0.142</text><text y="9.5">samples = 26</text><text y="21.5">value = [24, 2]</text></g>
<g id="n105" transform="translate(3304 1027)"><use href="#L2" class="u"/><use href="#L2" class="o"/><text y="-8.5">gini = 0.0</text><text y="3.5">samples = 4</text><text y="15.5">value = [4, 0]</text></g>
<g id="n106" transform="translate(3407 1027)"><use href="#I3" class="u"/><use href="#I3" class="o" fill-opacity=".786"/><text y="-14.5">x[4] &lt;= 0.5</text><text y="-2.5">gini = 0.291</text><text y="9.5">samples = 34</text><text y="21.5">value = [28, 6]</text></g>
<g id="n107" transform="translate(3724 1027)"><use href="#I3" class="u"/><use href="#I3" class="b" fill-opacity=".886"/><text y="-14.5">x[6] &lt;= 0.5</text><text y="-2.5">gini = 0.183</text><text y="9.5">samples = 49</text><text y="21.5">value = [5, 44]</text></g>
<g id="n108" transform="translate(3830 1027)"><use href="#L2" class="u"/><use href="#L2" class="b"/><text y="-8.5">gini = 0.0</text><text y="3.5">samples = 7</text><text y="15.5">value = [0, 7]</text></g>
<g id="n109" transform="translate(4040 1027)"><use href="#I2" class="u"/><use href="#I2" class="b" fill-opacity=".5"/><text y="-14.5">x[5] &lt;= 2.5</text><text y="-2.5">gini = 0.444</text><text y="9.5">samples = 3</text><text y="21.5">value = [1, 2]</text></g>
<g id="n110" transform="translate(4147 1027)"><use href="#L2" class="u"/><use href="#L2" class="b"/><text y="-8.5">gini = 0.0</text><text y="3.5">samples = 4</text><text y="15.5">value = [0, 4]</text></g>
<g id="n111" transform="translate(4253 1027)"><use href="#I3" class="u"/><use href="#I3" class="b" fill-opacity=".882"/><text y="-14.5">x[5] &lt;= 3.5</text><text y="-2.5">gini = 0.188</text><text y="9.5">samples = 19</text><text y="21.5">value = [2, 17]</text></g>
<g id="n112" transform="translate(4357 1027)"><use href="#L2" class="u"/><use href="#L2" class="b"/><text y="-8.5">gini = 0.0</text><text y="3.5">samples = 7</text><text y="15.5">value = [0, 7]</text></g>
<g id="n113" transform="translate(4463 1027)"><use href="#L2" class="u"/><use href="#L2" class="b"/><text y="-8.5">gini = 0.0</text><text y="3.5">samples = 1</text><text y="15.5">value = [0, 1]</text></g>
<g id="n114" transform="translate(4568 1027)"><use href="#L2" class="u"/><use href="#L2" class="o"/><text y="-8.5">gini = 0.0</text><text y="3.5">samples = 5</text><text y="15.5">value = [5, 0]</text></g>
<g id="n115" transform="translate(4674 1027)"><use href="#I2" class="u"/><use href="#I2" class="b" fill-opacity=".75"/><text y="-14.5">x[3] &lt;= 2.5</text><text y="-2.5">gini = 0.32</text><text y="9.5">samples = 5</text><text y="21.5">value = [1, 4]</text></g>
<g id="n116" transform="translate(4779 1027)"><use href="#L2" class="u"/><use href="#L2" class="o"/><text y="-8.5">gini = 0.0</text><text y="3.5">samples = 1</text><text y="15.5">value = [1, 0]</text></g>
<g id="n117" transform="translate(5016 1027)"><use href="#I4" class="u"/><use href="#I4" class="o" fill-opacity=".059"/><text y="-14.5">x[3] &lt;= 0.5</text><text y="-2.5">gini = 0.5</text><text y="9.5">samples = 33</text><text y="21.5">value = [17, 16]</text></g>
<g id="n118" transform="translate(5122 1027)"><use href="#L2" class="u"/><use href="#L2" class="o"/><text y="-8.5">gini = 0.0</text><text y="3.5">samples = 2</text><text y="15.5">value = [2, 0]</text></g>
<g id="n119" transform="translate(5227 1027)"><use href="#L2" class="u"/><use href="#L2" class="o" fill-opacity=".6"/><text y="-8.5">gini = 0.408</text><text y="3.5">samples = 7</text><text y="15.5">value = [5, 2]</text></g>
<g id="n120" transform="translate(5333 1027)"><use href="#L2" class="u"/><use href="#L2" class="o"/><text y="-8.5">gini = 0.0</text><text y="3.5">samples = 5</text><text y="15.5">value = [5, 0]</text></g>
<g id="n121" transform="translate(5438 1027)"><use href="#I2" class="u"/><use href="#I2" class="b" fill-opacity=".5"/><text y="-14.5">x[3] &lt;= 1.5</text><text y="-2.5">gini = 0.444</text><text y="9.5">samples = 9</text><text y="21.5">value = [3, 6]</text></g>
<g id="n122" transform="translate(5649 1027)"><use href="#I4" class="u"/><use href="#I4" class="o" fill-opacity=".077"/><text y="-14.5">x[1] &lt;= 0.5</text><text y="-2.5">gini = 0.499</text><text y="9.5">samples = 25</text><text y="21.5">value = [13, 12]</text></g>
<g id="n123" transform="translate(5913 1027)"><use href="#I3" class="u"/><use href="#I3" class="b" fill-opacity=".667"/><text y="-14.5">x[6] &lt;= 0.5</text><text y="-2.5">gini = 0.375</text><text y="9.5">samples = 24</text><text y="21.5">value = [6, 18]</text></g>
<g id="n124" transform="translate(6017 1027)"><use href="#L2" class="u"/><use href="#L2" class="o"/><text y="-8.5">gini = 0.0</text><text y="3.5">samples = 1</text><text y="15.5">value = [1, 0]</text></g>
<g id="n125" transform="translate(6124 1027)"><use href="#I2" class="u"/><use href="#I2" class="o" fill-opacity=".5"/><text y="-14.5">x[7] &lt;= 1.5</text><text y="-2.5">gini = 0.444</text><text y="9.5">samples = 6</text><text y="21.5">value = [4, 2]</text></g>
<g id="n126" transform="translate(6336 1027)"><use href="#I3" class="u"/><use href="#I3" class="b" fill-opacity=".429"/><text y="-14.5">x[6] &lt;= 0.5</text><text y="-2.5">gini = 0.463</text><text y="9.5">samples = 22</text><text y="21.5">value = [8, 14]</text></g>
<g id="n127" transform="translate(60 1163)"><use href="#L2" class="u"/><use href="#L2" class="b" fill-opacity=".5"/><text y="-8.5">gini = 0.444</text><text y="3.5">samples = 3</text><text y="15.5">value = [1, 2]</text></g>
<g id="n128" transform="translate(166 1163)"><use href="#L3" class="u"/><use href="#L3" class="b" fill-opacity=".4"/><text y="-8.5">gini = 0.469</text><text y="3.5">samples = 16</text><text y="15.5">value = [6, 10]</text></g>
<g id="n129" transform="translate(270 1163)"><use href="#L2" class="u"/><use href="#L2" class="w"/><text y="-8.5">gini = 0.5</text><text y="3.5">samples = 2</text><text y="15.5">value = [1, 1]</text></g>
<g id="n130" transform="translate(376 1163)"><use href="#L2" class="u"/><use href="#L2" class="w"/><text y="-8.5">gini = 0.5</text><text y="3.5">samples = 6</text><text y="15.5">value = [3, 3]</text></g>
<g id="n131" transform="translate(482 1163)"><use href="#L2" class="u"/><use href="#L2" class="o" fill-opacity=".6"/><text y="-8.5">gini = 0.408</text><text y="3.5">samples = 7</text><text y="15.5">value = [5, 2]</text></g>
<g id="n132" transform="translate(588 1163)"><use href="#L2" class="u"/><use href="#L2" class="o" fill-opacity=".167"/><text y="-8.5">gini = 0.496</text><text y="3.5">samples = 11</text><text y="15.5">value = [6, 5]</text></g>
<g id="n133" transform="translate(693 1163)"><use href="#L2" class="u"/><use href="#L2" class="w"/><text y="-8.5">gini = 0.5</text><text y="3.5">samples = 8</text><text y="15.5">value = [4, 4]</text></g>
<g id="n134" transform="translate(799 1163)"><use href="#L2" class="u"/><use href="#L2" class="b"/><text y="-8.5">gini = 0.0</text><text y="3.5">samples = 2</text><text y="15.5">value = [0, 2]</text></g>
<g id="n135" transform="translate(905 1163)"><use href="#L2" class="u"/><use href="#L2" class="o" fill-opacity=".5"/><text y="-8.5">gini = 0.444</text><text y="3.5">samples = 3</text><text y="15.5">value = [2, 1]</text></g>
<g id="n136" transform="translate(1010 1163)"><use href="#L2" class="u"/><use href="#L2" class="o" fill-opacity=".5"/><text y="-8.5">gini = 0.444</text><text y="3.5">samples = 3</text><text y="15.5">value = [2, 1]</text></g>
<g id="n137" transform="translate(1114 1163)"><use href="#L2" class="u"/><use href="#L2" class="o" fill-opacity=".889"/><text y="-8.5">gini = 0.18</text><text y="3.5">samples = 10</text><text y="15.5">value = [9, 1]</text></g>
<g id="n138" transform="translate(1219 1163)"><use href="#L2" class="u"/><use href="#L2" class="o" fill-opacity=".667"/><text y="-8.5">gini = 0.375</text><text y="3.5">samples = 4</text><text y="15.5">value = [3, 1]</text></g>
<g id="n139" transform="translate(1642 1163)"><use href="#L2" class="u"/><use href="#L2" class="o"/><text y="-8.5">gini = 0.0</text><text y="3.5">samples = 7</text><text y="15.5">value = [7, 0]</text></g>
<g id="n140" transform="translate(1748 1163)"><use href="#I3" class="u"/><use href="#I3" class="o" fill-opacity=".897"/><text y="-14.5">x[6] &lt;= 0.5</text><text y="-2.5">gini = 0.169</text><text y="9.5">samples = 86</text><text y="21.5">value = [78, 8]</text></g>
<g id="n141" transform="translate(1960 1163)"><use href="#I3" class="u"/><use href="#I3" class="o" fill-opacity=".893"/><text y="-14.5">x[6] &lt;= 0.5</text><text y="-2.5">gini = 0.175</text><text y="9.5">samples = 31</text><text y="21.5">value = [28, 3]</text></g>
<g id="n142" transform="translate(2169 1163)"><use href="#I4" class="u"/><use href="#I4" class="o" fill-opacity=".807"/><text y="-14.5">x[6] &lt;= 0.5</text><text y="-2.5">gini = 0.271</text><text y="9.5">samples = 68</text><text y="21.5">value = [57, 11]</text></g>
<g id="n143" transform="translate(2276 1163)"><use href="#L2" class="u"/><use href="#L2" class="o" fill-opacity=".667"/><text y="-8.5">gini = 0.375</text><text y="3.5">samples = 4</text><text y="15.5">value = [3, 1]</text></g>
<g id="n144" transform="translate(2380 1163)"><use href="#L2" class="u"/><use href="#L2" class="o"/><text y="-8.5">gini = 0.0</text><text y="3.5">samples = 2</text><text y="15.5">value = [2, 0]</text></g>
<g id="n145" transform="translate(2513 1163)"><use href="#I2" class="u"/><use href="#I2" class="o" fill-opacity=".857"/><text y="-14.5">x[0] &lt;= 2.5</text><text y="-2.5">gini = 0.219</text><text y="9.5">samples = 8</text><text y="21.5">value = [7, 1]</text></g>
<g id="n146" transform="translate(2776 1163)"><use href="#I3" class="u"/><use href="#I3" class="o" fill-opacity=".739"/><text y="-14.5">x[3] &lt;= 0.5</text><text y="-2.5">gini = 0.328</text><text y="9.5">samples = 29</text><text y="21.5">value = [23, 6]</text></g>
<g id="n147" transform="translate(2881 1163)"><use href="#L2" class="u"/><use href="#L2" class="o"/><text y="-8.5">gini = 0.0</text><text y="3.5">samples = 1</text><text y="15.5">value = [1, 0]</text></g>
<g id="n148" transform="translate(2987 1163)"><use href="#L2" class="u"/><use href="#L2" class="o" fill-opacity=".667"/><text y="-8.5">gini = 0.375</text><text y="3.5">samples = 4</text><text y="15.5">value = [3, 1]</text></g>
<g id="n149" transform="translate(3092 1163)"><use href="#L3" class="u"/><use href="#L3" class="o" fill-opacity=".905"/><text y="-8.5">gini = 0.159</text><text y="3.5">samples = 23</text><text y="15.5">value = [21, 2]</text></g>
<g id="n150" transform="translate(3199 1163)"><use href="#L2" class="u"/><use href="#L2" class="o"/><text y="-8.5">gini = 0.0</text><text y="3.5">samples = 3</text><text y="15.5">value = [3, 0]</text></g>
<g id="n151" transform="translate(3355 1163)"><use href="#I3" class="u"/><use href="#I3" class="o" fill-opacity=".769"/><text y="-14.5">x[2] &lt;= 2.5</text><text y="-2.5">gini = 0.305</text><text y="9.5">samples = 32</text><text y="21.5">value = [26, 6]</text></g>
<g id="n152" transform="translate(3461 1163)"><use href="#L2" class="u"/><use href="#L2" class="o"/><text y="-8.5">gini = 0.0</text><text y="3.5">samples = 2</text><text y="15.5">value = [2, 0]</text></g>
<g id="n153" transform="translate(3567 1163)"><use href="#I3" class="u"/><use href="#I3" class="b" fill-opacity=".864"/><text y="-14.5">x[5] &lt;= 2.5</text><text y="-2.5">gini = 0.211</text><text y="9.5">samples = 25</text><text y="21.5">value = [3, 22]</text></g>
<g id="n154" transform="translate(3884 1163)"><use href="#I3" class="u"/><use href="#I3" class="b" fill-opacity=".909"/><text y="-14.5">x[5] &lt;= 2.5</text><text y="-2.5">gini = 0.153</text><text y="9.5">samples = 24</text><text y="21.5">value = [2, 22]</text></g>
<g id="n155" transform="translate(3989 1163)"><use href="#L2" class="u"/><use href="#L2" class="b"/><text y="-8.5">gini = 0.0</text><text y="3.5">samples = 2</text><text y="15.5">value = [0, 2]</text></g>
<g id="n156" transform="translate(4094 1163)"><use href="#L2" class="u"/><use href="#L2" class="o"/><text y="-8.5">gini = 0.0</text><text y="3.5">samples = 1</text><text y="15.5">value = [1, 0]</text></g>
<g id="n157" transform="translate(4199 1163)"><use href="#I3" class="u"/><use href="#I3" class="b" fill-opacity=".833"/><text y="-14.5">x[5] &lt;= 2.5</text><text y="-2.5">gini = 0.245</text><text y="9.5">samples = 14</text><text y="21.5">value = [2, 12]</text></g>
<g id="n158" transform="translate(4305 1163)"><use href="#L2" class="u"/><use href="#L2" class="b"/><text y="-8.5">gini = 0.0</text><text y="3.5">samples = 5</text><text y="15.5">value = [0, 5]</text></g>
<g id="n159" transform="translate(4620 1163)"><use href="#L2" class="u"/><use href="#L2" class="w"/><text y="-8.5">gini = 0.5</text><text y="3.5">samples = 2</text><text y="15.5">value = [1, 1]</text></g>
<g id="n160" transform="translate(4727 1163)"><use href="#L2" class="u"/><use href="#L2" class="b"/><text y="-8.5">gini = 0.0</text><text y="3.5">samples = 3</text><text y="15.5">value = [0, 3]</text></g>
<g id="n161" transform="translate(4832 1163)"><use href="#I2" class="u"/><use href="#I2" class="b" fill-opacity=".25"/><text y="-14.5">x[2] &lt;= 0.5</text><text y="-2.5">gini = 0.49</text><text y="9.5">samples = 14</text><text y="21.5">value = [6, 8]</text></g>
<g id="n162" transform="translate(5201 1163)"><use href="#I3" class="u"/><use href="#I3" class="o" fill-opacity=".273"/><text y="-14.5">x[7] &lt;= 1.5</text><text y="-2.5">gini = 0.488</text><text y="9.5">samples = 19</text><text y="21.5">value = [11, 8]</text></g>
<g id="n163" transform="translate(5386 1163)"><use href="#L2" class="u"/><use href="#L2" class="b"/><text y="-8.5">gini = 0.0</text><text y="3.5">samples = 2</text><text y="15.5">value = [0, 2]</text></g>
<g id="n164" transform="translate(5490 1163)"><use href="#L2" class="u"/><use href="#L2" class="b" fill-opacity=".25"/><text y="-8.5">gini = 0.49</text><text y="3.5">samples = 7</text><text y="15.5">value = [3, 4]</text></g>
<g id="n165" transform="translate(5597 1163)"><use href="#L2" class="u"/><use href="#L2" class="o"/><text y="-8.5">gini = 0.0</text><text y="3.5">samples = 1</text><text y="15.5">value = [1, 0]</text></g>
<g id="n166" transform="translate(5702 1163)"><use href="#I4" class="u"/><use href="#I4" class="w"/><text y="-14.5">x[2] &lt;= 1.5</text><text y="-2.5">gini = 0.5</text><text y="9.5">samples = 24</text><text y="21.5">value = [12, 12]</text></g>
<g id="n167" transform="translate(5860 1163)"><use href="#L2" class="u"/><use href="#L2" class="o"/><text y="-8.5">gini = 0.0</text><text y="3.5">samples = 1</text><text y="15.5">value = [1, 0]</text></g>
<g id="n168" transform="translate(5966 1163)"><use href="#I3" class="u"/><use href="#I3" class="b" fill-opacity=".722"/><text y="-14.5">x[4] &lt;= 1.5</text><text y="-2.5">gini = 0.34</text><text y="9.5">samples = 23</text><text y="21.5">value = [5, 18]</text></g>
<g id="n169" transform="translate(6070 1163)"><use href="#L2" class="u"/><use href="#L2" class="o"/><text y="-8.5">gini = 0.0</text><text y="3.5">samples = 4</text><text y="15.5">value = [4, 0]</text></g>
<g id="n170" transform="translate(6176 1163)"><use href="#L2" class="u"/><use href="#L2" class="b"/><text y="-8.5">gini = 0.0</text><text y="3.5">samples = 2</text><text y="15.5">value = [0, 2]</text></g>
<g id="n171" transform="translate(6282 1163)"><use href="#I3" class="u"/><use href="#I3" class="b" fill-opacity=".5"/><text y="-14.5">x[4] &lt;= 1.5</text><text y="-2.5">gini = 0.444</text><text y="9.5">samples = 21</text><text y="21.5">value = [7, 14]</text></g>
<g id="n172" transform="translate(6387 1163)"><use href="#L2" class="u"/><use href="#L2" class="o"/><text y="-8.5">gini = 0.0</text><text y="3.5">samples = 1</text><text y="15.5">value = [1, 0]</text></g>
<g id="n173" transform="translate(1695 1299)"><use href="#L2" class="u"/><use href="#L2" class="o" fill-opacity=".857"/><text y="-8.5">gini = 0.219</text><text y="3.5">samples = 8</text><text y="15.5">value = [7, 1]</text></g>
<g id="n174" transform="translate(1800 1299)"><use href="#L3" class="u"/><use href="#L3" class="o" fill-opacity=".901"/><text y="-8.5">gini = 0.163</text><text y="3.5">samples = 78</text><text y="15.5">value = [71, 7]</text></g>
<g id="n175" transform="translate(1906 1299)"><use href="#L2" class="u"/><use href="#L2" class="o"/><text y="-8.5">gini = 0.0</text><text y="3.5">samples = 2</text><text y="15.5">value = [2, 0]</text></g>
<g id="n176" transform="translate(2011 1299)"><use href="#I3" class="u"/><use href="#I3" class="o" fill-opacity=".885"/><text y="-14.5">x[7] &lt;= 1.0</text><text y="-2.5">gini = 0.185</text><text y="9.5">samples = 29</text><text y="21.5">value = [26, 3]</text></g>
<g id="n177" transform="translate(2118 1299)"><use href="#L2" class="u"/><use href="#L2" class="o" fill-opacity=".5"/><text y="-8.5">gini = 0.444</text><text y="3.5">samples = 3</text><text y="15.5">value = [2, 1]</text></g>
<g id="n178" transform="translate(2222 1299)"><use href="#I4" class="u"/><use href="#I4" class="o" fill-opacity=".818"/><text y="-14.5">x[7] &lt;= 1.5</text><text y="-2.5">gini = 0.26</text><text y="9.5">samples = 65</text><text y="21.5">value = [55, 10]</text></g>
<g id="n179" transform="translate(2460 1299)"><use href="#L2" class="u"/><use href="#L2" class="o"/><text y="-8.5">gini = 0.0</text><text y="3.5">samples = 3</text><text y="15.5">value = [3, 0]</text></g>
<g id="n180" transform="translate(2565 1299)"><use href="#I2" class="u"/><use href="#I2" class="o" fill-opacity=".75"/><text y="-14.5">x[3] &lt;= 1.0</text><text y="-2.5">gini = 0.32</text><text y="9.5">samples = 5</text><text y="21.5">value = [4, 1]</text></g>
<g id="n181" transform="translate(2723 1299)"><use href="#L3" class="u"/><use href="#L3" class="o" fill-opacity=".789"/><text y="-8.5">gini = 0.287</text><text y="3.5">samples = 23</text><text y="15.5">value = [19, 4]</text></g>
<g id="n182" transform="translate(2829 1299)"><use href="#I2" class="u"/><use href="#I2" class="o" fill-opacity=".5"/><text y="-14.5">x[3] &lt;= 1.5</text><text y="-2.5">gini = 0.444</text><text y="9.5">samples = 6</text><text y="21.5">value = [4, 2]</text></g>
<g id="n183" transform="translate(3303 1299)"><use href="#I3" class="u"/><use href="#I3" class="o" fill-opacity=".773"/><text y="-14.5">x[0] &lt;= 2.5</text><text y="-2.5">gini = 0.302</text><text y="9.5">samples = 27</text><text y="21.5">value = [22, 5]</text></g>
<g id="n184" transform="translate(3409 1299)"><use href="#L2" class="u"/><use href="#L2" class="o" fill-opacity=".75"/><text y="-8.5">gini = 0.32</text><text y="3.5">samples = 5</text><text y="15.5">value = [4, 1]</text></g>
<g id="n185" transform="translate(3514 1299)"><use href="#L2" class="u"/><use href="#L2" class="b"/><text y="-8.5">gini = 0.0</text><text y="3.5">samples = 3</text><text y="15.5">value = [0, 3]</text></g>
<g id="n186" transform="translate(3620 1299)"><use href="#I3" class="u"/><use href="#I3" class="b" fill-opacity=".842"/><text y="-14.5">x[7] &lt;= 3.0</text><text y="-2.5">gini = 0.236</text><text y="9.5">samples = 22</text><text y="21.5">value = [3, 19]</text></g>
<g id="n187" transform="translate(3831 1299)"><use href="#I3" class="u"/><use href="#I3" class="b" fill-opacity=".846"/><text y="-14.5">x[3] &lt;= 1.5</text><text y="-2.5">gini = 0.231</text><text y="9.5">samples = 15</text><text y="21.5">value = [2, 13]</text></g>
<g id="n188" transform="translate(3936 1299)"><use href="#L2" class="u"/><use href="#L2" class="b"/><text y="-8.5">gini = 0.0</text><text y="3.5">samples = 9</text><text y="15.5">value = [0, 9]</text></g>
<g id="n189" transform="translate(4147 1299)"><use href="#I3" class="u"/><use href="#I3" class="b" fill-opacity=".9"/><text y="-14.5">x[2] &lt;= 0.5</text><text y="-2.5">gini = 0.165</text><text y="9.5">samples = 11</text><text y="21.5">value = [1, 10]</text></g>
<g id="n190" transform="translate(4253 1299)"><use href="#L2" class="u"/><use href="#L2" class="b" fill-opacity=".5"/><text y="-8.5">gini = 0.444</text><text y="3.5">samples = 3</text><text y="15.5">value = [1, 2]</text></g>
<g id="n191" transform="translate(4779 1299)"><use href="#L2" class="u"/><use href="#L2" class="o"/><text y="-8.5">gini = 0.0</text><text y="3.5">samples = 1</text><text y="15.5">value = [1, 0]</text></g>
<g id="n192" transform="translate(4885 1299)"><use href="#I2" class="u"/><use href="#I2" class="b" fill-opacity=".375"/><text y="-14.5">x[6] &lt;= 0.5</text><text y="-2.5">gini = 0.473</text><text y="9.5">samples = 13</text><text y="21.5">value = [5, 8]</text></g>
<g id="n193" transform="translate(5096 1299)"><use href="#I2" class="u"/><use href="#I2" class="b" fill-opacity=".667"/><text y="-14.5">x[6] &lt;= 0.5</text><text y="-2.5">gini = 0.375</text><text y="9.5">samples = 4</text><text y="21.5">value = [1, 3]</text></g>
<g id="n194" transform="translate(5306 1299)"><use href="#I3" class="u"/><use href="#I3" class="o" fill-opacity=".5"/><text y="-14.5">x[6] &lt;= 0.5</text><text y="-2.5">gini = 0.444</text><text y="9.5">samples = 15</text><text y="21.5">value = [10, 5]</text></g>
<g id="n195" transform="translate(5597 1299)"><use href="#I2" class="u"/><use href="#I2" class="b" fill-opacity=".111"/><text y="-14.5">x[3] &lt;= 1.5</text><text y="-2.5">gini = 0.498</text><text y="9.5">samples = 17</text><text y="21.5">value = [8, 9]</text></g>
<g id="n196" transform="translate(5808 1299)"><use href="#I2" class="u"/><use href="#I2" class="o" fill-opacity=".25"/><text y="-14.5">x[3] &lt;= 1.5</text><text y="-2.5">gini = 0.49</text><text y="9.5">samples = 7</text><text y="21.5">value = [4, 3]</text></g>
<g id="n197" transform="translate(5913 1299)"><use href="#L2" class="u"/><use href="#L2" class="b"/><text y="-8.5">gini = 0.0</text><text y="3.5">samples = 2</text><text y="15.5">value = [0, 2]</text></g>
<g id="n198" transform="translate(6018 1299)"><use href="#L3" class="u"/><use href="#L3" class="b" fill-opacity=".688"/><text y="-8.5">gini = 0.363</text><text y="3.5">samples = 21</text><text y="15.5">value = [5, 16]</text></g>
<g id="n199" transform="translate(6151 1299)"><use href="#I2" class="u"/><use href="#I2" class="b" fill-opacity=".333"/><text y="-14.5">x[7] &lt;= 1.5</text><text y="-2.5">gini = 0.48</text><text y="9.5">samples = 15</text><text y="21.5">value = [6, 9]</text></g>
<g id="n200" transform="translate(6414 1299)"><use href="#I2" class="u"/><use href="#I2" class="b" fill-opacity=".8"/><text y="-14.5">x[5] &lt;= 2.5</text><text y="-2.5">gini = 0.278</text><text y="9.5">samples = 6</text><text y="21.5">value = [1, 5]</text></g>
<g id="n201" transform="translate(1959 1435)"><use href="#L2" class="u"/><use href="#L2" class="o"/><text y="-8.5">gini = 0.0</text><text y="3.5">samples = 1</text><text y="15.5">value = [1, 0]</text></g>
<g id="n202" transform="translate(2064 1435)"><use href="#L3" class="u"/><use href="#L3" class="o" fill-opacity=".88"/><text y="-8.5">gini = 0.191</text><text y="3.5">samples = 28</text><text y="15.5">value = [25, 3]</text></g>
<g id="n203" transform="translate(2170 1435)"><use href="#L2" class="u"/><use href="#L2" class="o" fill-opacity=".667"/><text y="-8.5">gini = 0.375</text><text y="3.5">samples = 4</text><text y="15.5">value = [3, 1]</text></g>
<g id="n204" transform="translate(2275 1435)"><use href="#L3" class="u"/><use href="#L3" class="o" fill-opacity=".827"/><text y="-8.5">gini = 0.252</text><text y="3.5">samples = 61</text><text y="15.5">value = [52, 9]</text></g>
<g id="n205" transform="translate(2512 1435)"><use href="#L2" class="u"/><use href="#L2" class="o"/><text y="-8.5">gini = 0.0</text><text y="3.5">samples = 1</text><text y="15.5">value = [1, 0]</text></g>
<g id="n206" transform="translate(2617 1435)"><use href="#L2" class="u"/><use href="#L2" class="o" fill-opacity=".667"/><text y="-8.5">gini = 0.375</text><text y="3.5">samples = 4</text><text y="15.5">value = [3, 1]</text></g>
<g id="n207" transform="translate(2723 1435)"><use href="#I2" class="u"/><use href="#I2" class="w"/><text y="-14.5">x[0] &lt;= 2.5</text><text y="-2.5">gini = 0.5</text><text y="9.5">samples = 2</text><text y="21.5">value = [1, 1]</text></g>
<g id="n208" transform="translate(2934 1435)"><use href="#I2" class="u"/><use href="#I2" class="o" fill-opacity=".667"/><text y="-14.5">x[7] &lt;= 2.5</text><text y="-2.5">gini = 0.375</text><text y="9.5">samples = 4</text><text y="21.5">value = [3, 1]</text></g>
<g id="n209" transform="translate(3250 1435)"><use href="#L2" class="u"/><use href="#L2" class="o" fill-opacity=".778"/><text y="-8.5">gini = 0.298</text><text y="3.5">samples = 11</text><text y="15.5">value = [9, 2]</text></g>
<g id="n210" transform="translate(3356 1435)"><use href="#L3" class="u"/><use href="#L3" class="o" fill-opacity=".769"/><text y="-8.5">gini = 0.305</text><text y="3.5">samples = 16</text><text y="15.5">value = [13, 3]</text></g>
<g id="n211" transform="translate(3566 1435)"><use href="#L3" class="u"/><use href="#L3" class="b" fill-opacity=".833"/><text y="-8.5">gini = 0.245</text><text y="3.5">samples = 14</text><text y="15.5">value = [2, 12]</text></g>
<g id="n212" transform="translate(3671 1435)"><use href="#L2" class="u"/><use href="#L2" class="b" fill-opacity=".857"/><text y="-8.5">gini = 0.219</text><text y="3.5">samples = 8</text><text y="15.5">value = [1, 7]</text></g>
<g id="n213" transform="translate(3778 1435)"><use href="#I3" class="u"/><use href="#I3" class="b" fill-opacity=".818"/><text y="-14.5">x[2] &lt;= 1.5</text><text y="-2.5">gini = 0.26</text><text y="9.5">samples = 13</text><text y="21.5">value = [2, 11]</text></g>
<g id="n214" transform="translate(3883 1435)"><use href="#L2" class="u"/><use href="#L2" class="b"/><text y="-8.5">gini = 0.0</text><text y="3.5">samples = 2</text><text y="15.5">value = [0, 2]</text></g>
<g id="n215" transform="translate(4094 1435)"><use href="#I2" class="u"/><use href="#I2" class="b" fill-opacity=".8"/><text y="-14.5">x[0] &lt;= 1.5</text><text y="-2.5">gini = 0.278</text><text y="9.5">samples = 6</text><text y="21.5">value = [1, 5]</text></g>
<g id="n216" transform="translate(4199 1435)"><use href="#L2" class="u"/><use href="#L2" class="b"/><text y="-8.5">gini = 0.0</text><text y="3.5">samples = 5</text><text y="15.5">value = [0, 5]</text></g>
<g id="n217" transform="translate(4832 1435)"><use href="#L2" class="u"/><use href="#L2" class="b"/><text y="-8.5">gini = 0.0</text><text y="3.5">samples = 1</text><text y="15.5">value = [0, 1]</text></g>
<g id="n218" transform="translate(4937 1435)"><use href="#L2" class="u"/><use href="#L2" class="b" fill-opacity=".286"/><text y="-8.5">gini = 0.486</text><text y="3.5">samples = 12</text><text y="15.5">value = [5, 7]</text></g>
<g id="n219" transform="translate(5043 1435)"><use href="#L2" class="u"/><use href="#L2" class="b" fill-opacity=".5"/><text y="-8.5">gini = 0.444</text><text y="3.5">samples = 3</text><text y="15.5">value = [1, 2]</text></g>
<g id="n220" transform="translate(5148 1435)"><use href="#L2" class="u"/><use href="#L2" class="b"/><text y="-8.5">gini = 0.0</text><text y="3.5">samples = 1</text><text y="15.5">value = [0, 1]</text></g>
<g id="n221" transform="translate(5254 1435)"><use href="#L2" class="u"/><use href="#L2" class="o" fill-opacity=".667"/><text y="-8.5">gini = 0.375</text><text y="3.5">samples = 4</text><text y="15.5">value = [3, 1]</text></g>
<g id="n222" transform="translate(5359 1435)"><use href="#L2" class="u"/><use href="#L2" class="o" fill-opacity=".429"/><text y="-8.5">gini = 0.463</text><text y="3.5">samples = 11</text><text y="15.5">value = [7, 4]</text></g>
<g id="n223" transform="translate(5544 1435)"><use href="#I2" class="u"/><use href="#I2" class="b" fill-opacity=".25"/><text y="-14.5">x[6] &lt;= 0.5</text><text y="-2.5">gini = 0.49</text><text y="9.5">samples = 7</text><text y="21.5">value = [3, 4]</text></g>
<g id="n224" transform="translate(5649 1435)"><use href="#L2" class="u"/><use href="#L2" class="w"/><text y="-8.5">gini = 0.5</text><text y="3.5">samples = 10</text><text y="15.5">value = [5, 5]</text></g>
<g id="n225" transform="translate(5755 1435)"><use href="#L2" class="u"/><use href="#L2" class="o"/><text y="-8.5">gini = 0.0</text><text y="3.5">samples = 1</text><text y="15.5">value = [1, 0]</text></g>
<g id="n226" transform="translate(5860 1435)"><use href="#L2" class="u"/><use href="#L2" class="w"/><text y="-8.5">gini = 0.5</text><text y="3.5">samples = 6</text><text y="15.5">value = [3, 3]</text></g>
<g id="n227" transform="translate(6045 1435)"><use href="#I2" class="u"/><use href="#I2" class="b" fill-opacity=".6"/><text y="-14.5">x[5] &lt;= 2.5</text><text y="-2.5">gini = 0.408</text><text y="9.5">samples = 7</text><text y="21.5">value = [2, 5]</text></g>
<g id="n228" transform="translate(6256 1435)"><use href="#I2" class="u"/><use href="#I2" class="w"/><text y="-14.5">x[5] &lt;= 2.5</text><text y="-2.5">gini = 0.5</text><text y="9.5">samples = 8</text><text y="21.5">value = [4, 4]</text></g>
<g id="n229" transform="translate(6361 1435)"><use href="#L2" class="u"/><use href="#L2" class="b"/><text y="-8.5">gini = 0.0</text><text y="3.5">samples = 4</text><text y="15.5">value = [0, 4]</text></g>
<g id="n230" transform="translate(6467 1435)"><use href="#L2" class="u"/><use href="#L2" class="w"/><text y="-8.5">gini = 0.5</text><text y="3.5">samples = 2</text><text y="15.5">value = [1, 1]</text></g>
<g id="n231" transform="translate(2670 1571)"><use href="#L2" class="u"/><use href="#L2" class="b"/><text y="-8.5">gini = 0.0</text><text y="3.5">samples = 1</text><text y="15.5">value = [0, 1]</text></g>
<g id="n232" transform="translate(2776 1571)"><use href="#L2" class="u"/><use href="#L2" class="o"/><text y="-8.5">gini = 0.0</text><text y="3.5">samples = 1</text><text y="15.5">value = [1, 0]</text></g>
<g id="n233" transform="translate(2881 1571)"><use href="#L2" class="u"/><use href="#L2" class="o"/><text y="-8.5">gini = 0.0</text><text y="3.5">samples = 2</text><text y="15.5">value = [2, 0]</text></g>
<g id="n234" transform="translate(2987 1571)"><use href="#L2" class="u"/><use href="#L2" class="w"/><text y="-8.5">gini = 0.5</text><text y="3.5">samples = 2</text><text y="15.5">value = [1, 1]</text></g>
<g id="n235" transform="translate(3725 1571)"><use href="#L2" class="u"/><use href="#L2" class="b" fill-opacity=".875"/><text y="-8.5">gini = 0.198</text><text y="3.5">samples = 9</text><text y="15.5">value = [1, 8]</text></g>
<g id="n236" transform="translate(3830 1571)"><use href="#L2" class="u"/><use href="#L2" class="b" fill-opacity=".667"/><text y="-8.5">gini = 0.375</text><text y="3.5">samples = 4</text><text y="15.5">value = [1, 3]</text></g>
<g id="n237" transform="translate(4041 1571)"><use href="#L2" class="u"/><use href="#L2" class="b" fill-opacity=".667"/><text y="-8.5">gini = 0.375</text><text y="3.5">samples = 4</text><text y="15.5">value = [1, 3]</text></g>
<g id="n238" transform="translate(4147 1571)"><use href="#L2" class="u"/><use href="#L2" class="b"/><text y="-8.5">gini = 0.0</text><text y="3.5">samples = 2</text><text y="15.5">value = [0, 2]</text></g>
<g id="n239" transform="translate(5490 1571)"><use href="#L2" class="u"/><use href="#L2" class="b" fill-opacity=".333"/><text y="-8.5">gini = 0.48</text><text y="3.5">samples = 5</text><text y="15.5">value = [2, 3]</text></g>
<g id="n240" transform="translate(5596 1571)"><use href="#L2" class="u"/><use href="#L2" class="w"/><text y="-8.5">gini = 0.5</text><text y="3.5">samples = 2</text><text y="15.5">value = [1, 1]</text></g>
<g id="n241" transform="translate(5992 1571)"><use href="#L2" class="u"/><use href="#L2" class="b" fill-opacity=".5"/><text y="-8.5">gini = 0.444</text><text y="3.5">samples = 6</text><text y="15.5">value = [2, 4]</text></g>
<g id="n242" transform="translate(6097 1571)"><use href="#L2" class="u"/><use href="#L2" class="b"/><text y="-8.5">gini = 0.0</text><text y="3.5">samples = 1</text><text y="15.5">value = [0, 1]</text></g>
<g id="n243" transform="translate(6203 1571)"><use href="#L2" class="u"/><use href="#L2" class="o" fill-opacity=".5"/><text y="-8.5">gini = 0.444</text><text y="3.5">samples = 3</text><text y="15.5">value = [2, 1]</text></g>
<g id="n244" transform="translate(6307 1571)"><use href="#L2" class="u"/><use href="#L2" class="b" fill-opacity=".333"/><text y="-8.5">gini = 0.48</text><text y="3.5">samples = 5</text><text y="15.5">value = [2, 3]</text></g>
</g>
</g>
</svg>
